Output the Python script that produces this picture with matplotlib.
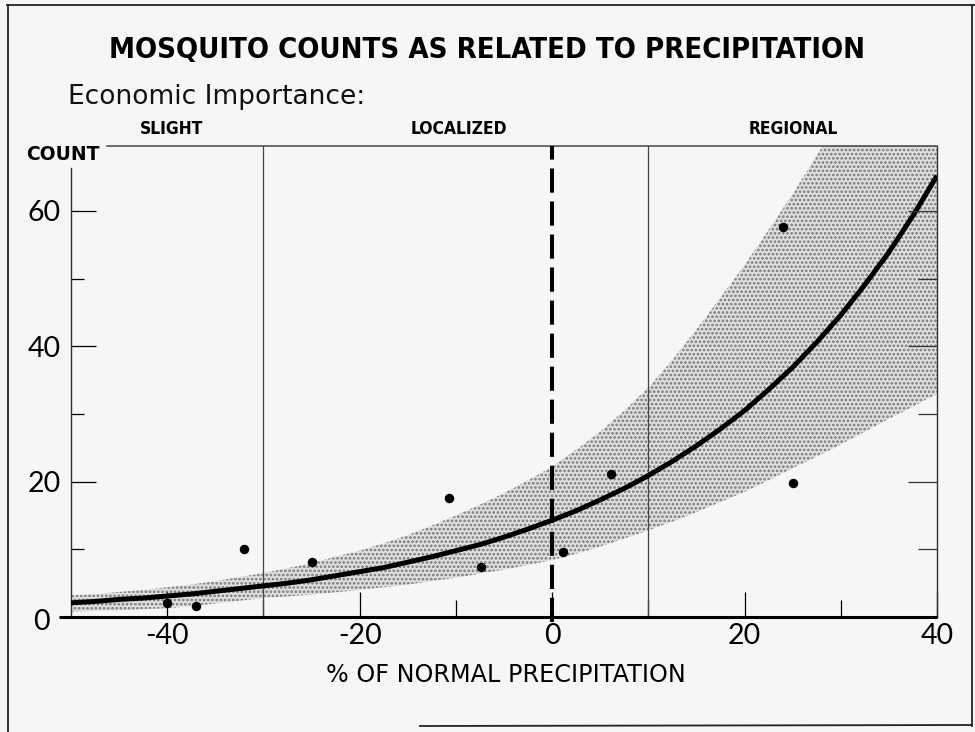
import matplotlib
matplotlib.use("Agg")
import matplotlib.pyplot as plt
from matplotlib.transforms import ScaledTranslation

# ---------------- data ----------------
obs_x = [-40, -37, -32, -25, -10.7, -7.4, 1.1, 6.1, 24, 25]
obs_y = [2.1, 1.6, 10.0, 8.1, 17.6, 7.4, 9.6, 21.1, 57.6, 19.8]

curve_x = [-50, -47.5, -45, -42.5, -40, -37.5, -35, -32.5, -30, -27.5, -25, -22.5, -20,
           -17.5, -15, -12.5, -10, -7.5, -5, -2.5, 0, 2.5, 5, 7.5, 10, 12.5, 15, 17.5,
           20, 22.5, 25, 27.5, 30, 32.5, 35, 37.5, 40]
curve_y = [2.1, 2.3, 2.6, 2.8, 3.1, 3.4, 3.8, 4.2, 4.6, 5.0, 5.5, 6.1, 6.7,
           7.3, 8.1, 8.9, 9.8, 10.7, 11.8, 13.0, 14.3, 15.7, 17.3, 19.0, 20.9, 23.0, 25.3, 27.8,
           30.5, 33.6, 36.9, 40.6, 44.6, 49.1, 53.9, 59.3, 65.2]
band_upper = [3.2, 3.4, 3.7, 4.0, 4.4, 4.8, 5.3, 5.9, 6.5, 7.2, 8.0, 8.9, 9.8,
              10.9, 12.1, 13.5, 15.0, 16.6, 18.3, 20.2, 22.2, 24.7, 27.4, 30.5, 33.9, 38.0, 42.5, 47.2,
              52.0, 57.2, 62.5, 68.2, 74.0, 80.5, 87.0, 94.0, 101.0]
band_lower = [0.8, 0.9, 1.0, 1.15, 1.3, 1.6, 2.0, 2.4, 2.8, 3.05, 3.3, 3.65, 4.0,
              4.4, 4.8, 5.3, 5.8, 6.4, 7.0, 7.7, 8.4, 9.35, 10.4, 11.6, 12.8, 14.1, 15.5, 17.0,
              18.5, 20.2, 22.0, 23.7, 25.5, 27.4, 29.3, 31.1, 33.0]

zone_names = ["SLIGHT", "LOCALIZED", "REGIONAL"]
zone_bounds = [-30, 10]
normal_x = 0

y_major = [0, 20, 40, 60]
y_minor = [10, 30, 50]
x_major = [-40, -20, 0, 20, 40]
x_minor = [-30, -10, 10, 30]
x_labels = ["-40", "-20", "0", "20", "40"]

title = "MOSQUITO COUNTS AS RELATED TO PRECIPITATION"
subtitle = "Economic Importance:"
ylabel = "COUNT"
xlabel = "% OF NORMAL PRECIPITATION"

# ---------------- figure ----------------
W, H = 975, 732
BG = "#f6f6f6"
plt.rcParams["hatch.linewidth"] = 1.3
plt.rcParams["hatch.color"] = "#7a7a7a"

fig = plt.figure(figsize=(W / 100, H / 100), dpi=100, facecolor=BG)


def fx(px):
    return px / W


def fy(py):
    return 1 - py / H


ax_l, ax_r, ax_t, ax_b = 71, 937, 146, 617
ax = fig.add_axes([fx(ax_l), fy(ax_b), fx(ax_r) - fx(ax_l), fy(ax_t) - fy(ax_b)])
ax.set_facecolor(BG)
ax.set_xlim(-50, 40)
ax.set_ylim(0, 69.6)
for s in ax.spines.values():
    s.set_visible(False)

# confidence band (stippled)
ax.fill_between(curve_x, band_lower, band_upper, facecolor="#e0e0e0",
                edgecolor="#777777", hatch="....", linewidth=0, zorder=1)

# zone boundaries
for b in zone_bounds:
    ax.plot([b, b], [0, 69.6], color="#444444", lw=0.9, zorder=2, clip_on=False)

# normal precipitation dashed line
ax.plot([normal_x, normal_x], [-0.8, 69.6], color="black", lw=2.9,
        dashes=(6.0, 2.2), zorder=4, clip_on=False)

# fitted curve
ax.plot(curve_x, curve_y, color="black", lw=3.6, zorder=5, solid_capstyle="butt",
        solid_joinstyle="round")

# observations
ax.plot(obs_x, obs_y, "o", color="black", ms=5.8, zorder=6)

# frame lines of the plot
ax.plot([-51.2, 40], [0, 0], color="black", lw=2.2, zorder=7, clip_on=False,
        solid_capstyle="butt")
ax.plot([-50, -50], [0, 66.3], color="#333333", lw=1.0, zorder=3, clip_on=False)
ax.plot([40, 40], [0, 69.6], color="#333333", lw=1.0, zorder=3, clip_on=False)
ax.plot([-46.3, 40], [69.6, 69.6], color="#444444", lw=1.1, zorder=3, clip_on=False)

# ticks
ax.set_yticks(y_major)
ax.set_yticks(y_minor, minor=True)
ax.set_xticks(x_major)
ax.set_xticks(x_minor, minor=True)
ax.set_xticklabels(x_labels)
ax.tick_params(axis="both", which="both", direction="in", color="black", width=0.9)
ax.tick_params(axis="y", which="major", length=18, pad=7.5, labelsize=20.5)
ax.tick_params(axis="y", which="minor", length=9.5)
ax.tick_params(axis="x", which="major", length=18, pad=4, labelsize=20.5)
ax.tick_params(axis="x", which="minor", length=12)
for lab in ax.get_xticklabels() + ax.get_yticklabels():
    lab.set_fontfamily("Lato")
ylabs = ax.get_yticklabels()
ylabs[0].set_transform(ylabs[0].get_transform() +
                       ScaledTranslation(-0.11, -0.02, fig.dpi_scale_trans))

# right-side inward ticks
ax2 = ax.twinx()
ax2.set_ylim(0, 69.6)
for s in ax2.spines.values():
    s.set_visible(False)
ax2.set_yticks([20, 40, 60])
ax2.set_yticks([10, 30, 50], minor=True)
ax2.tick_params(axis="y", which="both", direction="in", labelright=False, width=0.9,
                color="#333333")
ax2.tick_params(axis="y", which="major", length=21)
ax2.tick_params(axis="y", which="minor", length=14)

# ---------------- texts ----------------
cond = dict(family=["DejaVu Sans"], fontstretch="condensed", weight="bold")
fig.text(fx(487), fy(57.5), title, ha="center", va="baseline", fontsize=21, **cond)
fig.text(fx(68), fy(104), subtitle, ha="left", va="baseline",
         family="DejaVu Sans", fontsize=19, color="#111111")
zone_centers = [172, 458.5, 793.5]
for name, cx in zip(zone_names, zone_centers):
    fig.text(fx(cx), fy(134), name, ha="center", va="baseline", fontsize=12.5, **cond)
fig.text(fx(26), fy(160), ylabel, ha="left", va="baseline",
         family="DejaVu Sans", weight="bold", fontsize=13.5)
fig.text(fx(506), fy(682), xlabel, ha="center", va="baseline",
         family="DejaVu Sans", fontsize=17.2)

# ---------------- outer frame (broken at lower left, as in the scan) ----------------
frame_kw = dict(color="#222222", lw=1.3, transform=fig.transFigure, clip_on=False)
fig.add_artist(plt.Line2D([fx(7), fx(975)], [fy(5), fy(5)], **frame_kw))
fig.add_artist(plt.Line2D([fx(8), fx(8)], [fy(5), fy(732)], **frame_kw))
fig.add_artist(plt.Line2D([fx(972), fx(972)], [fy(5), fy(726)], **frame_kw))
fig.add_artist(plt.Line2D([fx(420), fx(972)], [fy(726), fy(725)], **frame_kw))

fig.savefig("out.png", dpi=100, facecolor=BG)
